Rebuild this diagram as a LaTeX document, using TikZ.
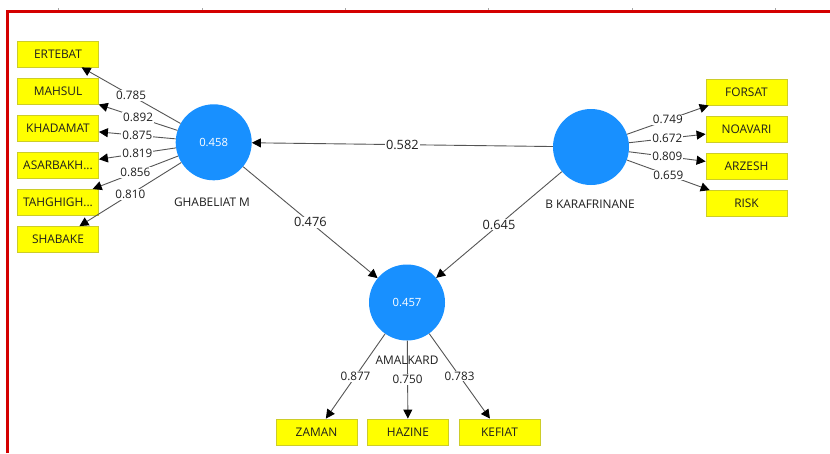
\documentclass[tikz,border=0pt]{standalone}
\usepackage{fontspec}
\setmainfont{Open Sans}
\usetikzlibrary{arrows.meta}
\definecolor{plsblue}{RGB}{24,144,255}
\definecolor{boxyellow}{RGB}{255,255,0}
\definecolor{boxedge}{RGB}{205,205,40}
\definecolor{frame}{RGB}{212,0,0}
\definecolor{edgegray}{RGB}{85,85,85}
\definecolor{txt}{RGB}{30,30,30}
\tikzset{
  latent/.style={circle, fill=plsblue, draw=none, minimum size=76pt, inner sep=0pt,
    text=white, font=\fontsize{11.3}{13}\selectfont},
  indicator/.style={rectangle, fill=boxyellow, draw=boxedge, line width=0.8pt,
    minimum width=81pt, minimum height=26pt, inner sep=0pt, text=txt,
    font=\fontsize{11.9}{14}\selectfont},
  conn/.style={draw=edgegray, line width=0.9pt,
    -{Triangle[length=9pt,width=9pt,fill=black,color=black]}},
  val/.style={fill=white, inner sep=1pt, text=txt, font=\fontsize{11.7}{14}\selectfont},
  sval/.style={val, font=\fontsize{12.8}{15}\selectfont},
  lvname/.style={text=txt, font=\fontsize{11.9}{14}\selectfont, inner sep=0pt},
  tick/.style={draw=gray!70, line width=0.5pt}
}
\begin{document}
\begin{tikzpicture}[x=1pt,y=-1pt]
\useasboundingbox (0,0) rectangle (830,453);
\fill[white] (0,0) rectangle (830,453);
% frame
\draw[frame, line width=3pt] (7.3,453) -- (7.3,11) -- (830,11);
\foreach \tx in {58,202,345,488,632,775} \draw[tick] (\tx,8) -- (\tx,9.5);

% latent variables
\node[latent] (G) at (213.7,142.3) {0.458};
\node[latent] (B) at (591,147) {};
\node[latent] (A) at (407,302.5) {0.457};
\node[lvname] (Gn) at (212,202) {GHABELIAT M};
\node[lvname] (Bn) at (590,204) {B KARAFRINANE};

% left indicators
\node[indicator] (i1) at (58,54) {ERTEBAT};
\node[indicator] (i2) at (58,91.1) {MAHSUL};
\node[indicator] (i3) at (58,128.2) {KHADAMAT};
\node[indicator] (i4) at (58,165.3) {ASARBAKH...};
\node[indicator] (i5) at (58,202.4) {TAHGHIGH...};
\node[indicator] (i6) at (58,239.5) {SHABAKE};
% right indicators
\node[indicator] (r1) at (746.5,92) {FORSAT};
\node[indicator] (r2) at (746.5,129.5) {NOAVARI};
\node[indicator] (r3) at (746.5,166.5) {ARZESH};
\node[indicator] (r4) at (746.5,203.5) {RISK};
% bottom indicators
\node[indicator] (b1) at (316.5,432) {ZAMAN};
\node[indicator] (b2) at (408,432) {HAZINE};
\node[indicator] (b3) at (499.5,432) {KEFIAT};

% outer loadings
\path[conn] (G) -- node[val] {0.785} (i1);
\path[conn] (G) -- node[val] {0.892} (i2);
\path[conn] (G) -- node[val] {0.875} (i3);
\path[conn] (G) -- node[val] {0.819} (i4);
\path[conn] (G) -- node[val] {0.856} (i5);
\path[conn] (G) -- node[val] {0.810} (i6);

\path[conn] (B) -- node[val] {0.749} (r1);
\path[conn] (B) -- node[val] {0.672} (r2);
\path[conn] (B) -- node[val] {0.809} (r3);
\path[conn] (B) -- node[val] {0.659} (r4);

\path[conn] (A) -- node[val] {0.877} (b1);
\path[conn] (A) -- node[val] {0.750} (b2);
\path[conn] (A) -- node[val] {0.783} (b3);

% structural paths
\path[conn] (B) -- node[sval] {0.582} (G);
\path[conn] (G) -- node[sval] {0.476} (A);
\path[conn] (B) -- node[sval] {0.645} (A);

\node[lvname] (An) at (407,360) {AMALKARD};
\end{tikzpicture}
\end{document}
